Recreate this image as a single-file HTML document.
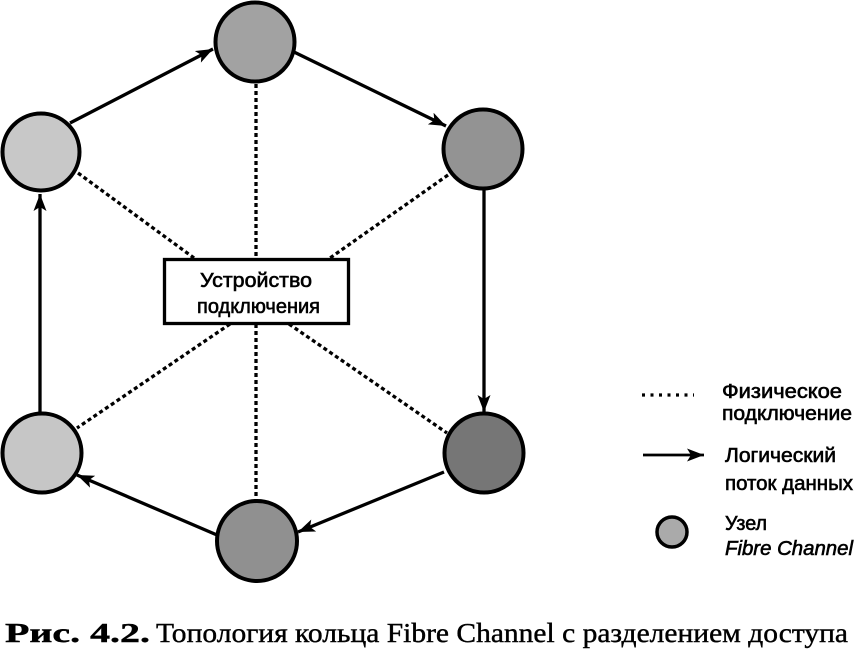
<!DOCTYPE html>
<html>
<head>
<meta charset="utf-8">
<style>
  html, body { margin: 0; padding: 0; background: #fff; }
  body { width: 854px; height: 649px; overflow: hidden; }
  svg { display: block; }
  .sans { font-family: "Liberation Sans", "DejaVu Sans", sans-serif; fill: #000; stroke: #000; stroke-width: 0.6; }
  .serif { font-family: "Liberation Serif", "DejaVu Serif", serif; fill: #000; stroke: #000; stroke-width: 0.4; }
</style>
</head>
<body>
<svg width="854" height="649" viewBox="0 0 854 649" xmlns="http://www.w3.org/2000/svg">
  <defs>
    <marker id="ah" markerUnits="userSpaceOnUse" markerWidth="20" markerHeight="16" refX="17" refY="6.5" orient="auto">
      <path d="M0,0 L17,6.5 L0,13 L4,6.5 z" fill="#000"/>
    </marker>
  </defs>

  <!-- physical (dotted) connections -->
  <g stroke="#000" stroke-width="3.3" stroke-dasharray="4 3" fill="none">
    <line x1="256" y1="84" x2="256" y2="258"/>
    <line x1="256" y1="324" x2="256" y2="500"/>
    <line x1="78" y1="173" x2="194" y2="258"/>
    <line x1="448" y1="175" x2="330" y2="258"/>
    <line x1="230" y1="324" x2="77" y2="428"/>
    <line x1="289" y1="324" x2="447" y2="433"/>
  </g>

  <!-- logical flow arrows -->
  <g stroke="#000" stroke-width="3.3" fill="none" marker-end="url(#ah)">
    <line x1="70" y1="123" x2="213" y2="49"/>
    <line x1="294" y1="52" x2="446" y2="126"/>
    <line x1="484" y1="190" x2="484" y2="412"/>
    <line x1="444" y1="472" x2="298" y2="532"/>
    <line x1="217" y1="535" x2="77" y2="475"/>
    <line x1="40" y1="413" x2="40" y2="194"/>
  </g>

  <!-- nodes -->
  <g stroke="#000" stroke-width="4">
    <circle cx="41" cy="152" r="38.5" fill="#c8c8c8"/>
    <circle cx="255" cy="42" r="39.5" fill="#a2a2a2"/>
    <circle cx="483" cy="149" r="39.5" fill="#939393"/>
    <circle cx="484" cy="453" r="39.5" fill="#767676"/>
    <circle cx="257" cy="541" r="40" fill="#909090"/>
    <circle cx="42" cy="453" r="39.5" fill="#c6c6c6"/>
  </g>

  <!-- central device -->
  <rect x="164.5" y="259.5" width="184" height="64" fill="#fff" stroke="#000" stroke-width="3.3"/>
  <text class="sans" x="200" y="287" font-size="20" textLength="112" lengthAdjust="spacingAndGlyphs">Устройство</text>
  <text class="sans" x="197" y="313" font-size="20" textLength="123" lengthAdjust="spacingAndGlyphs">подключения</text>

  <!-- legend -->
  <line x1="642" y1="395" x2="694" y2="395" stroke="#000" stroke-width="3.3" stroke-dasharray="3 5.5"/>
  <text class="sans" x="722" y="398" font-size="20" textLength="120" lengthAdjust="spacingAndGlyphs">Физическое</text>
  <text class="sans" x="722" y="420" font-size="20" textLength="130" lengthAdjust="spacingAndGlyphs">подключение</text>

  <line x1="643" y1="455" x2="704" y2="455" stroke="#000" stroke-width="2.8" marker-end="url(#ah)"/>
  <text class="sans" x="725" y="462" font-size="20" textLength="111" lengthAdjust="spacingAndGlyphs">Логический</text>
  <text class="sans" x="725" y="490" font-size="20" textLength="128" lengthAdjust="spacingAndGlyphs">поток данных</text>

  <circle cx="672" cy="532" r="15" fill="#aaaaaa" stroke="#000" stroke-width="3.5"/>
  <text class="sans" x="725" y="530" font-size="20" textLength="42" lengthAdjust="spacingAndGlyphs">Узел</text>
  <text class="sans" x="725" y="555" font-size="20" font-style="italic" textLength="128" lengthAdjust="spacingAndGlyphs">Fibre Channel</text>

  <!-- caption -->
  <text class="serif" x="5" y="642" font-size="27" font-weight="bold" textLength="145" lengthAdjust="spacingAndGlyphs">Рис. 4.2.</text>
  <text class="serif" x="156" y="642" font-size="27" textLength="692" lengthAdjust="spacingAndGlyphs">Топология кольца Fibre Channel с разделением доступа</text>
</svg>
</body>
</html>
